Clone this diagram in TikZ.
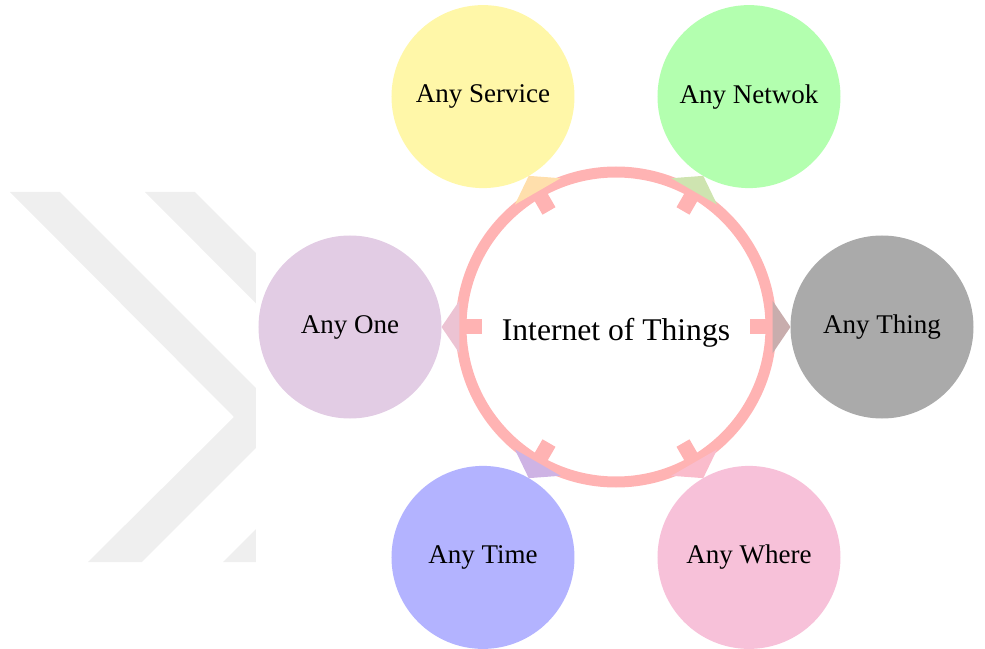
\documentclass[tikz,border=0pt]{standalone}
\usepackage{fontspec}
\setmainfont{Liberation Serif}
\usetikzlibrary{positioning,arrows.meta}

\definecolor{ring}{HTML}{FFB3B3}
\definecolor{servc}{HTML}{FFF7A8}
\definecolor{netc}{HTML}{B3FFAF}
\definecolor{thingc}{HTML}{AAAAAA}
\definecolor{onec}{HTML}{E2CCE4}
\definecolor{timec}{HTML}{B3B3FF}
\definecolor{wherec}{HTML}{F7C1D9}
\definecolor{wmark}{HTML}{EFEFEF}

\begin{document}
\begin{tikzpicture}[x=0.5pt,y=0.5pt,node distance=133pt,on grid,
    hub/.style={circle,minimum size=134pt,inner sep=0pt,outer sep=0pt,
      text height=13.6pt,text depth=0pt,font=\fontsize{15.8}{18}\selectfont},
    sat/.style={circle,fill=#1,minimum size=91.5pt,inner sep=0pt,outer sep=0pt,
      font=\fontsize{13.5}{16}\selectfont},
    link/.style={draw=ring,line width=7.5pt,
      -{Triangle[width=26pt,length=9pt,color=ring!35!#1]}}]
   \useasboundingbox (-616,-321) rectangle (369,327);
   % watermark
   \begin{scope}
    \clip (-616,-235) rectangle (-360,135);
    \foreach \dx in {0,135}
     \fill[wmark,xshift=\dx*0.5pt] (-606,135) -- (-556,135) -- (-330,-91)
       -- (-474,-235) -- (-528,-235) -- (-382,-90) -- cycle;
   \end{scope}
   \node[hub] (iot) at (0,0) {Internet of Things};
   \draw[ring,line width=5.5pt] (iot.center) circle[radius=155];
   \node[sat=servc] (serv) [above left=115.2pt and 66.5pt of iot] {Any Service};
   \node[sat=netc] (net) [above right=115.2pt and 66.5pt of iot] {Any Netwok};
   \node[sat=thingc] (thing) [right=of iot] {Any Thing};
   \node[sat=onec] (one) [left=of iot] {Any One};
   \node[sat=timec] (time) [below left=115.2pt and 66.5pt of iot] {Any Time};
   \node[sat=wherec] (where) [below right=115.2pt and 66.5pt of iot] {Any Where};
    \path
    (iot) edge[link=servc] (serv)
    (iot) edge[link=netc] (net)
    (iot) edge[link=thingc] (thing)
    (iot) edge[link=onec] (one)
    (iot) edge[link=timec] (time)
    (iot) edge[link=wherec] (where);
\end{tikzpicture}
\end{document}
